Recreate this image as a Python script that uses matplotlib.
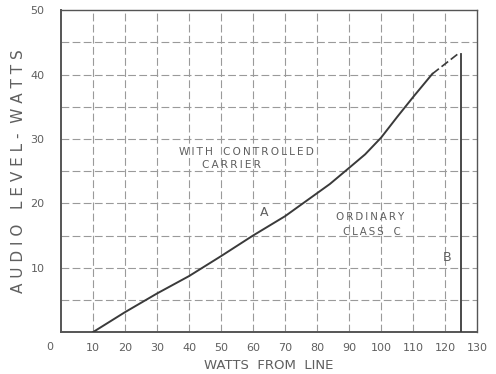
import matplotlib.pyplot as plt

# curve A: with controlled carrier
line_w = [10, 20, 30, 40, 50, 60, 70, 77, 84, 90, 95, 100, 105, 110, 116]
audio_w = [0, 3.1, 6.0, 8.7, 11.8, 15.0, 18.0, 20.5, 23.0, 25.5, 27.6, 30.2, 33.4, 36.5, 40.1]
# dashed tail of A
tail_w = [116, 124]
tail_a = [40.1, 43.2]
# B: ordinary class C
b_w = [125, 125]
b_a = [0, 43.2]

xticks = [10, 20, 30, 40, 50, 60, 70, 80, 90, 100, 110, 120, 130]
yticks = [10, 20, 30, 40, 50]

ink = '#3a3a3a'
txt = '#5f5f5f'
grid = '#9a9a9a'
ts = '\u2009'

def spaced(s):
    return ts.join(s)

fig = plt.figure(figsize=(4.96, 3.74), dpi=100)
ax = fig.add_axes([0.123, 0.112, 0.839, 0.861])
ax.set_xlim(0, 130)
ax.set_ylim(0, 50)

for gx in range(10, 130, 10):
    ax.plot([gx, gx], [0, 50], color=grid, lw=0.8, ls=(0, (7, 3)), zorder=1)
for gy in range(5, 50, 5):
    ax.plot([0, 130], [gy, gy], color=grid, lw=0.8, ls=(0, (7, 3)), zorder=1)

ax.plot(line_w, audio_w, color=ink, lw=1.4, zorder=3)
ax.plot(tail_w, tail_a, color=ink, lw=1.2, ls=(0, (5, 2)), zorder=3)
ax.plot(b_w, b_a, color=ink, lw=1.3, zorder=3)

for s in ax.spines.values():
    s.set_color('#555555')
    s.set_linewidth(1.0)
ax.spines['left'].set_linewidth(1.4)
ax.spines['bottom'].set_linewidth(1.4)

ax.set_xticks(xticks)
ax.set_xticklabels([str(v) for v in xticks])
ax.set_yticks(yticks)
ax.set_yticklabels([str(v) for v in yticks])
ax.tick_params(length=0, labelsize=8, colors=txt, pad=8)
ax.tick_params(axis='y', pad=12)
ax.text(-3.6, -2.3, '0', fontsize=8, color=txt, ha='center', va='center', clip_on=False)

ax.set_xlabel('WATTS  FROM  LINE', fontsize=9.5, color=txt, labelpad=4)
ax.set_ylabel('A U D I O   L E V E L -  W A T T S', fontsize=11, color=txt, labelpad=3)

ax.text(58, 27.9, spaced('WITH') + '   ' + spaced('CONTROLLED'), fontsize=7.6, color=txt, ha='center', va='center')
ax.text(53.4, 25.9, spaced('CARRIER'), fontsize=7.6, color=txt, ha='center', va='center')
ax.text(63.4, 18.6, 'A', fontsize=9, color=txt, ha='center', va='center')
ax.text(96.6, 17.8, spaced('ORDINARY'), fontsize=7.4, color=txt, ha='center', va='center')
ax.text(97, 15.5, spaced('CLASS') + '   C', fontsize=7.4, color=txt, ha='center', va='center')
ax.text(120.6, 11.6, 'B', fontsize=9, color=txt, ha='center', va='center')

fig.savefig('out.png', dpi=100)
